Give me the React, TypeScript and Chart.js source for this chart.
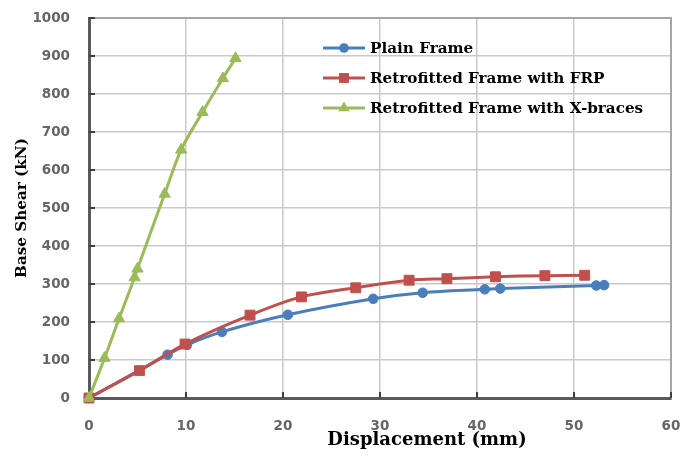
import { useEffect, useRef } from 'react';
import { Chart, registerables } from 'chart.js';

Chart.register(...registerables);

// Load–displacement curves of the three frames (displacement in mm, base shear in kN)
const seriesNames = ['Plain Frame', 'Retrofitted Frame with FRP', 'Retrofitted Frame with X-braces'];

const plainDisp = [0, 8.1, 10.1, 13.7, 20.5, 29.3, 34.4, 40.8, 42.4, 52.3, 53.1];
const plainShear = [0, 114, 140, 174, 219, 261, 277, 286, 288, 296, 297];

const frpDisp = [0, 5.2, 9.9, 16.6, 21.9, 27.5, 33.0, 36.9, 41.9, 47.0, 51.1];
const frpShear = [0, 72, 142, 218, 266, 290, 310, 314, 319, 322, 323];

const braceDisp = [0, 1.6, 3.1, 4.7, 5.0, 7.8, 9.5, 11.7, 13.8, 15.1];
const braceShear = [0, 105, 209, 317, 340, 537, 653, 752, 841, 894];

const xTickValues = [0, 10, 20, 30, 40, 50, 60];
const yTickValues = [0, 100, 200, 300, 400, 500, 600, 700, 800, 900, 1000];

const xTitle = 'Displacement (mm)';
const yTitle = 'Base Shear (kN)';

const colors = ['#4a7ebb', '#c0504d', '#9bbb59'];
const markerStyles = ['circle', 'rect', 'triangle'];
const markerRadius = [4.8, 7, 6.5];

const SERIF = '"DejaVu Serif", "Liberation Serif", serif';
const TICK_FONT = '"DejaVu Sans", Verdana, sans-serif';

const toPoints = (xs: number[], ys: number[]) => xs.map((x, i) => ({ x, y: ys[i] }));

// Legend marker, sized like Chart.js point styles
function drawMarker(ctx: CanvasRenderingContext2D, style: string, r: number, x: number, y: number) {
  ctx.beginPath();
  if (style === 'circle') {
    ctx.arc(x, y, r, 0, Math.PI * 2);
  } else if (style === 'rect') {
    const s = Math.SQRT1_2 * r;
    ctx.rect(x - s, y - s, 2 * s, 2 * s);
  } else {
    const h = r * 1.5;
    const w = r * Math.sqrt(3);
    ctx.moveTo(x - w / 2, y + h / 3);
    ctx.lineTo(x + w / 2, y + h / 3);
    ctx.lineTo(x, y - (2 * h) / 3);
    ctx.closePath();
  }
  ctx.fill();
}

// Top/right frame, inward tick marks, axis titles and the in-plot legend
const decorations = {
  id: 'decorations',
  beforeDatasetsDraw(chart: any) {
    const { ctx, chartArea: a, scales } = chart;
    ctx.save();
    ctx.strokeStyle = '#a6a6a6';
    ctx.lineWidth = 2;
    ctx.beginPath();
    ctx.moveTo(a.left, a.top);
    ctx.lineTo(a.right, a.top);
    ctx.lineTo(a.right, a.bottom);
    ctx.stroke();

    ctx.strokeStyle = '#404040';
    ctx.lineWidth = 2;
    ctx.beginPath();
    yTickValues.forEach((v) => {
      const y = scales.y.getPixelForValue(v);
      ctx.moveTo(a.left, y);
      ctx.lineTo(a.left + 6, y);
    });
    xTickValues.forEach((v) => {
      const x = scales.x.getPixelForValue(v);
      ctx.moveTo(x, a.bottom);
      ctx.lineTo(x, a.bottom - 6);
    });
    ctx.stroke();
    ctx.restore();
  },
  afterDraw(chart: any) {
    const { ctx, chartArea: a } = chart;
    ctx.save();
    ctx.fillStyle = '#000';
    ctx.textBaseline = 'middle';

    // axis titles
    ctx.font = `bold 15.2px ${SERIF}`;
    ctx.textAlign = 'center';
    ctx.save();
    ctx.translate(22, (a.top + a.bottom) / 2);
    ctx.rotate(-Math.PI / 2);
    ctx.fillText(yTitle, 0, 0);
    ctx.restore();

    ctx.font = `bold 18px ${SERIF}`;
    ctx.fillText(xTitle, 427, 440);

    // legend
    const lineStart = 323;
    const lineEnd = 365;
    const top = 48;
    const gap = 30;
    ctx.font = `bold 15.2px ${SERIF}`;
    ctx.textAlign = 'left';
    seriesNames.forEach((name, i) => {
      const y = top + i * gap;
      ctx.strokeStyle = colors[i];
      ctx.fillStyle = colors[i];
      ctx.lineWidth = 3;
      ctx.beginPath();
      ctx.moveTo(lineStart, y);
      ctx.lineTo(lineEnd, y);
      ctx.stroke();
      drawMarker(ctx, markerStyles[i], markerRadius[i], (lineStart + lineEnd) / 2, y);
      ctx.fillStyle = '#000';
      ctx.fillText(name, 370, y + 1);
    });
    ctx.restore();
  },
};

export default function App() {
  const canvasRef = useRef<HTMLCanvasElement | null>(null);

  useEffect(() => {
    document.body.style.margin = '0';
    const canvas = canvasRef.current;
    if (!canvas) return;

    const series = [
      toPoints(plainDisp, plainShear),
      toPoints(frpDisp, frpShear),
      toPoints(braceDisp, braceShear),
    ];
    const drawOrder = [3, 2, 1];

    const tickFont = { family: TICK_FONT, size: 13.5, weight: 'bold' as const };

    const chart = new Chart(canvas, {
      type: 'line',
      data: {
        datasets: series.map((data, i) => ({
          label: seriesNames[i],
          data,
          borderColor: colors[i],
          backgroundColor: colors[i],
          borderWidth: 3,
          pointStyle: markerStyles[i] as any,
          pointRadius: markerRadius[i],
          pointBorderWidth: 1,
          tension: 0.35,
          clip: false as any,
          order: drawOrder[i],
        })),
      },
      options: {
        responsive: false,
        animation: false,
        devicePixelRatio: 1,
        layout: { padding: { left: 0, right: 16, top: 18, bottom: 0 } },
        plugins: {
          legend: { display: false },
          tooltip: { enabled: false },
        },
        scales: {
          x: {
            type: 'linear',
            min: 0,
            max: 60,
            afterBuildTicks: (s: any) => {
              s.ticks = xTickValues.map((value) => ({ value }));
            },
            afterFit: (s: any) => {
              s.height = 58;
              s.paddingLeft = 0;
              s.paddingRight = 0;
            },
            ticks: {
              color: '#666666',
              font: tickFont,
              padding: 20,
              callback: (v: any) => String(v),
            },
            grid: { color: '#c9c9c9', lineWidth: 1.5, drawTicks: false },
            border: { color: '#5a5a5a', width: 3 },
          },
          y: {
            type: 'linear',
            min: 0,
            max: 1000,
            afterBuildTicks: (s: any) => {
              s.ticks = yTickValues.map((value) => ({ value }));
            },
            afterFit: (s: any) => {
              s.width = 89;
              s.paddingTop = 0;
              s.paddingBottom = 0;
            },
            ticks: {
              color: '#666666',
              font: tickFont,
              padding: 19,
              callback: (v: any) => String(v),
            },
            grid: { color: '#c9c9c9', lineWidth: 1.5, drawTicks: false },
            border: { color: '#5a5a5a', width: 3 },
          },
        },
      },
      plugins: [decorations],
    });

    return () => chart.destroy();
  }, []);

  return (
    <div style={{ width: 687, height: 456, background: '#fff' }}>
      <canvas ref={canvasRef} width={687} height={456} style={{ display: 'block' }} />
    </div>
  );
}
